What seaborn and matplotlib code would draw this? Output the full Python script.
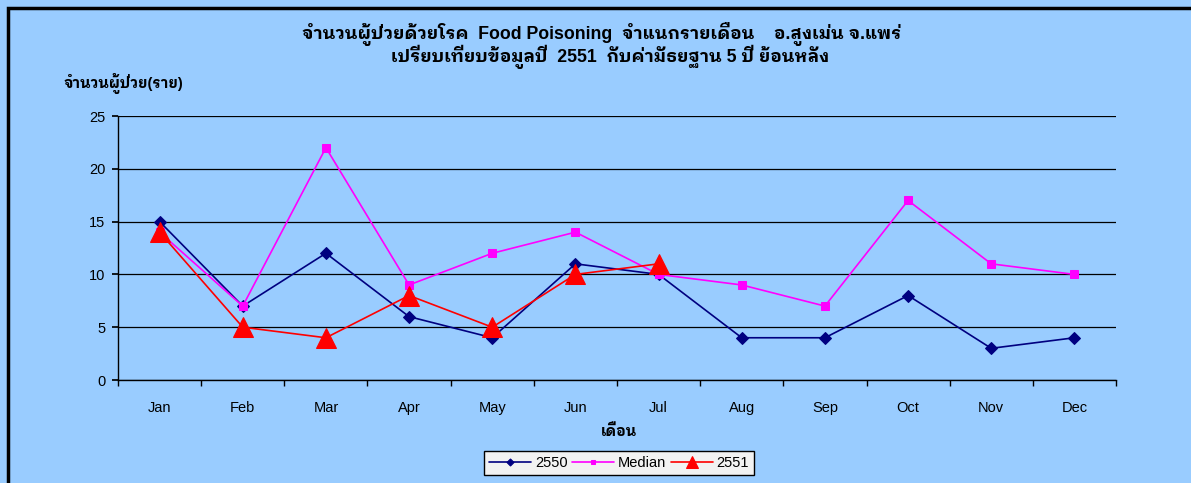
import matplotlib
matplotlib.use("Agg")
import matplotlib.pyplot as plt
import seaborn as sns
import pandas as pd
import numpy as np
from matplotlib.patches import Rectangle

months = ["Jan", "Feb", "Mar", "Apr", "May", "Jun", "Jul", "Aug", "Sep", "Oct", "Nov", "Dec"]
y2550 = [15, 7, 12, 6, 4, 11, 10, 4, 4, 8, 3, 4]
median = [14, 7, 22, 9, 12, 14, 10, 9, 7, 17, 11, 10]
y2551 = [14, 5, 4, 8, 5, 10, 11]

title_1 = "จำนวนผู้ป่วยด้วยโรค  Food Poisoning  จำแนกรายเดือน    อ.สูงเม่น จ.แพร่"
title_2 = "เปรียบเทียบข้อมูลปี  2551  กับค่ามัธยฐาน 5 ปี ย้อนหลัง"
ylabel = "จำนวนผู้ป่วย(ราย)"
xlabel = "เดือน"

sns.set_theme(style="white")
plt.rcParams['font.family'] = ['Liberation Sans', 'IBM Plex Sans Thai Looped', 'Noto Sans Thai Looped', 'DejaVu Sans']
plt.rcParams['text.color'] = 'black'
plt.rcParams['axes.labelcolor'] = 'black'
plt.rcParams['xtick.color'] = 'black'
plt.rcParams['ytick.color'] = 'black'

bg = "#99CCFF"
fig = plt.figure(figsize=(11.91, 4.83), dpi=100, facecolor=bg)
ax = fig.add_axes([118/1191, 1 - 380/483, (1116-118)/1191, (380-116)/483])
ax.set_facecolor(bg)

df = pd.DataFrame({"month": months, "2550": y2550, "Median": median,
                   "2551": y2551 + [np.nan] * (12 - len(y2551))})
df["x"] = np.arange(len(months))

sns.lineplot(data=df, x="x", y="2550", ax=ax, color="#000080", marker="D",
             markersize=6, linewidth=1.2, label="2550", markeredgecolor="#000080")
sns.lineplot(data=df, x="x", y="Median", ax=ax, color="#FF00FF", marker="s",
             markersize=6, linewidth=1.2, label="Median", markeredgecolor="#FF00FF")
sns.lineplot(data=df.dropna(), x="x", y="2551", ax=ax, color="#FF0000", marker="^",
             markersize=14, linewidth=1.2, label="2551", markeredgecolor="#FF0000")

ax.set_xlim(-0.5, 11.5)
ax.set_ylim(0, 25)
ax.set_yticks([0, 5, 10, 15, 20, 25])
ax.set_xticks(np.arange(12))
ax.set_xticklabels(months)
ax.set_xticks(np.arange(-0.5, 12, 1), minor=True)
ax.tick_params(axis="x", which="major", length=0, pad=15, labelsize=10.5, colors="black")
ax.tick_params(axis="x", which="minor", length=4, direction="out", color="black", bottom=True)
ax.tick_params(axis="y", length=4, direction="out", left=True, labelsize=10.5, colors="black", pad=5)
ax.yaxis.grid(True, color="black", linewidth=0.9)
ax.set_axisbelow(True)
for s in ["top", "right"]:
    ax.spines[s].set_visible(False)
for s in ["left", "bottom"]:
    ax.spines[s].set_color("black")
    ax.spines[s].set_linewidth(1.0)

ax.set_xlabel("")
ax.set_ylabel("")
fig.text(619/1191, 1 - 432/483, xlabel, fontsize=10.5, fontweight="bold", ha="center", va="center", color="black")
fig.text(64/1191, 1 - 84/483, ylabel, fontsize=10.5, fontweight="bold", va="center", ha="left", color="black")
fig.text(602/1191, 1 - 34/483, title_1, fontsize=12.8, fontweight="bold", ha="center", va="center", color="black")
fig.text(610/1191, 1 - 57/483, title_2, fontsize=12.8, fontweight="bold", ha="center", va="center", color="black")

leg = ax.legend(loc="center", bbox_to_anchor=(619/1191, 1 - 463/483),
                bbox_transform=fig.transFigure, ncol=3, frameon=True, fancybox=False,
                fontsize=10.5, handlelength=2.9, columnspacing=0.3, handletextpad=0.25,
                borderpad=0.35, markerscale=0.6)
leg.get_frame().set_facecolor("#F2F2F2")
leg.get_frame().set_edgecolor("black")
leg.get_frame().set_alpha(1)
for t in leg.get_texts():
    t.set_color("black")

fig.patches.append(Rectangle((8/1191, -0.1), 1.2, 1 - 8/483 + 0.1, transform=fig.transFigure,
                             fill=False, edgecolor="black", linewidth=2.5, zorder=10))

fig.savefig("out.png", dpi=100, facecolor=bg)
